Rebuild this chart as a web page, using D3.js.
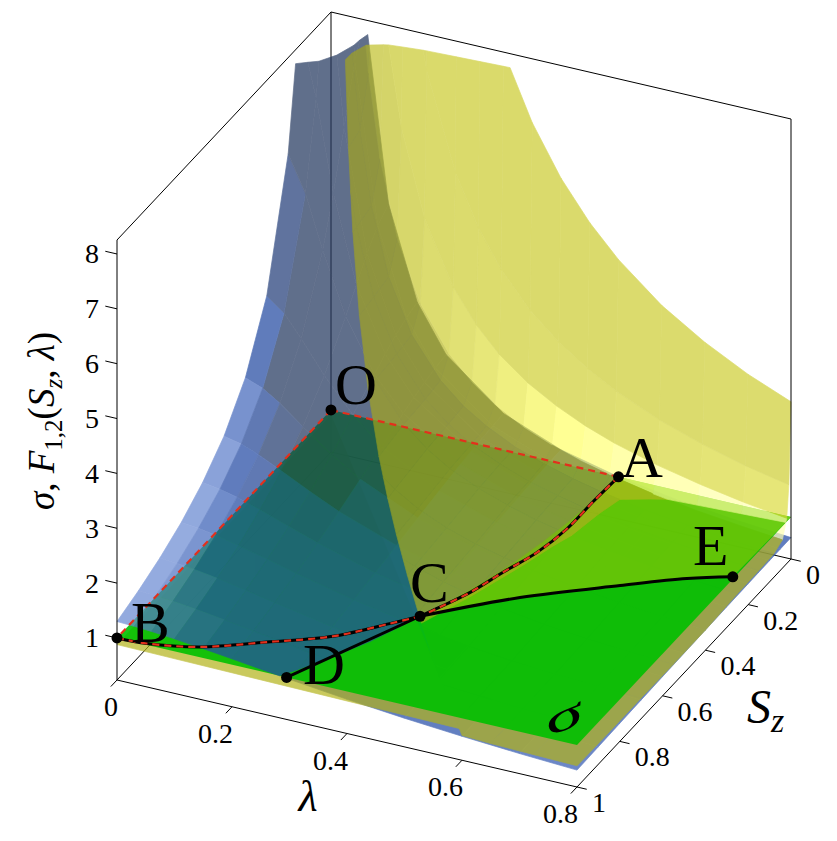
<!DOCTYPE html>
<html>
<head>
<meta charset="utf-8">
<script src="https://cdn.jsdelivr.net/npm/d3@7"></script>
<style>
  body { margin: 0; background: #fff; }
</style>
</head>
<body>
<div id="chart"></div>
<script>
// ---- data ----
const lambdaDomain = [0, 0.8];
const szDomain = [0, 1];
const zDomain = [0.234, 8.255];
const zCut = 8;          // surfaces are cut here
const sigmaLevel = 1;    // the sigma plane

const lambdaTicks = [0, 0.2, 0.4, 0.6, 0.8];
const szTicks = [0, 0.2, 0.4, 0.6, 0.8, 1];
const zTicks = [1, 2, 3, 4, 5, 6, 7, 8];

// blue surface F1, rows = Sz, columns = lambda
const blueLambda = [0, 0.03, 0.06, 0.1, 0.15, 0.2, 0.3, 0.4, 0.5, 0.6, 0.7, 0.8];
const blueSz = [0, 0.05, 0.1, 0.15, 0.2, 0.3, 0.4, 0.5, 0.6, 0.7, 0.8, 0.9, 1];
const blueF1 = [
  [99, 16.67, 8.33, 5.0, 3.33, 2.5, 1.667, 1.25, 1.0, 0.833, 0.714, 0.625],
  [26.0, 13.41, 7.71, 4.82, 3.26, 2.46, 1.652, 1.242, 0.995, 0.830, 0.712, 0.623],
  [13.0, 9.77, 6.71, 4.51, 3.15, 2.41, 1.632, 1.232, 0.989, 0.826, 0.709, 0.621],
  [8.67, 7.38, 5.72, 4.15, 3.01, 2.34, 1.606, 1.219, 0.982, 0.821, 0.706, 0.619],
  [6.5, 5.85, 4.89, 3.78, 2.85, 2.26, 1.576, 1.205, 0.973, 0.816, 0.702, 0.616],
  [4.33, 4.09, 3.69, 3.12, 2.52, 2.07, 1.504, 1.169, 0.953, 0.803, 0.693, 0.610],
  [3.25, 3.13, 2.93, 2.60, 2.21, 1.889, 1.424, 1.128, 0.929, 0.788, 0.683, 0.602],
  [2.6, 2.53, 2.41, 2.21, 1.954, 1.715, 1.341, 1.083, 0.902, 0.771, 0.671, 0.594],
  [2.17, 2.12, 2.05, 1.917, 1.736, 1.559, 1.259, 1.037, 0.874, 0.752, 0.658, 0.585],
  [1.857, 1.825, 1.774, 1.685, 1.555, 1.422, 1.181, 0.990, 0.845, 0.732, 0.645, 0.575],
  [1.625, 1.601, 1.565, 1.500, 1.404, 1.302, 1.107, 0.945, 0.815, 0.712, 0.630, 0.564],
  [1.444, 1.426, 1.399, 1.351, 1.278, 1.198, 1.039, 0.900, 0.785, 0.691, 0.615, 0.553],
  [1.3, 1.286, 1.265, 1.228, 1.171, 1.107, 0.977, 0.858, 0.756, 0.671, 0.600, 0.542]
];

// yellow surface F2 (upper sheet, right of the wall)
const yellowLambda = [0.03, 0.05, 0.065, 0.08, 0.1, 0.13, 0.17, 0.22, 0.26, 0.3, 0.35, 0.4, 0.45, 0.5, 0.575, 0.65, 0.725, 0.8];
const yellowSz = [0, 0.01, 0.02, 0.04, 0.08, 0.15, 0.25, 0.4, 0.55, 0.7, 0.85, 1];
const yellowF2 = [
  [82.7, 49.6, 38.2, 31.0, 24.8, 19.1, 14.6, 11.3, 9.54, 8.27, 7.09, 6.2, 5.51, 4.96, 4.31, 3.82, 3.42, 3.1],
  [43.3, 26.0, 20.0, 16.3, 13.0, 10.0, 7.65, 5.91, 5.0, 4.33, 3.71, 3.25, 2.89, 2.6, 2.26, 2.0, 1.79, 1.63],
  [28.3, 17.0, 13.1, 10.6, 8.5, 6.54, 5.0, 3.86, 3.27, 2.83, 2.43, 2.13, 1.89, 1.7, 1.48, 1.31, 1.17, 1.06],
  [20.0, 12.0, 9.23, 7.5, 6.0, 4.62, 3.53, 2.73, 2.31, 2.0, 1.71, 1.5, 1.33, 1.2, 1.04, 0.92, 0.83, 0.75],
  [17.7, 10.6, 8.15, 6.63, 5.3, 4.08, 3.12, 2.41, 2.04, 1.77, 1.51, 1.33, 1.18, 1.06, 0.92, 0.82, 0.73, 0.66],
  [17.3, 10.4, 8.0, 6.5, 5.2, 4.0, 3.06, 2.36, 2.0, 1.73, 1.49, 1.3, 1.16, 1.04, 0.9, 0.8, 0.72, 0.65],
  [17.0, 10.2, 7.85, 6.38, 5.1, 3.92, 3.0, 2.32, 1.96, 1.7, 1.46, 1.28, 1.13, 1.02, 0.89, 0.78, 0.7, 0.64],
  [16.0, 9.6, 7.38, 6.0, 4.8, 3.69, 2.82, 2.18, 1.85, 1.6, 1.37, 1.2, 1.07, 0.96, 0.83, 0.74, 0.66, 0.6],
  [15.0, 9.0, 6.92, 5.63, 4.5, 3.46, 2.65, 2.05, 1.73, 1.5, 1.29, 1.13, 1.0, 0.9, 0.78, 0.7, 0.64, 0.6],
  [13.7, 8.2, 6.31, 5.13, 4.1, 3.15, 2.41, 1.86, 1.58, 1.37, 1.17, 1.03, 0.91, 0.82, 0.74, 0.68, 0.64, 0.61],
  [13.0, 7.8, 6.0, 4.88, 3.9, 3.0, 2.29, 1.77, 1.5, 1.3, 1.11, 0.98, 0.87, 0.78, 0.72, 0.67, 0.64, 0.61],
  [12.5, 7.5, 5.77, 4.69, 3.75, 2.88, 2.21, 1.7, 1.44, 1.25, 1.07, 0.94, 0.83, 0.75, 0.7, 0.66, 0.64, 0.62]
];
// yellow lower sheet (left of the wall, under the plane)
const yellowLowLambda = [0, 0.6];
const yellowLowSz = [0, 1];
const yellowLowF2 = [[0.9, 0.85], [0.88, 0.8]];
// the wall where the yellow sheet ends (lambda, Sz)
const wallLine = [[0, 0], [0.6, 1]];

// labelled points on the sigma plane
const pointNames = ["O", "A", "B", "C", "D", "E"];
const pointLambda = [0, 0.5, 0, 0.4035, 0.295, 0.797];
const pointSz = [0, 0, 1, 0.668, 1, 0.264];

// curves on the plane, [lambda, Sz]
const curveOB = [[0, 0], [0, 1]];
const curveOA = [[0, 0], [0.5, 0]];
const curveAC = [[0.5, 0], [0.497, 0.11], [0.496, 0.23], [0.485, 0.34], [0.463, 0.44], [0.443, 0.54], [0.419, 0.62], [0.4035, 0.668]];
const curveBC = [[0, 1], [0.05, 0.995], [0.13, 0.963], [0.22, 0.889], [0.306, 0.813], [0.37, 0.72], [0.4035, 0.668]];
const curveCD = [[0.4035, 0.668], [0.295, 1]];
const curveCE = [[0.4035, 0.668], [0.521, 0.517], [0.648, 0.39], [0.734, 0.309], [0.797, 0.264]];

// ---- drawing ----
const width = 837, height = 841;
const svg = d3.select("#chart").append("svg")
  .attr("width", width)
  .attr("height", height)
  .attr("font-family", "'Liberation Serif', 'Times New Roman', 'DejaVu Serif', serif");

const sx = d3.scaleLinear().domain(lambdaDomain).range([0, 1]);
const sy = d3.scaleLinear().domain(szDomain).range([0, 1]);
const sz = d3.scaleLinear().domain(zDomain).range([0, 1]);

// orthographic view of the unit box
const origin = [331, 452];
const axisX = [460, 107], axisY = [-214, 228], axisZ = [0, -440];
const view = [0.366, 0.787, 0.497];

function norm(v) { const l = Math.hypot(...v) || 1; return v.map(d => d / l); }
function dot(a, b) { return a[0]*b[0] + a[1]*b[1] + a[2]*b[2]; }

function world(p) { return [sx(p[0]), sy(p[1]), sz(p[2])]; }
function screen(w) {
  return [origin[0] + axisX[0]*w[0] + axisY[0]*w[1] + axisZ[0]*w[2],
          origin[1] + axisX[1]*w[0] + axisY[1]*w[1] + axisZ[1]*w[2]];
}
function proj(p) { return screen(world(p)); }

// Sutherland-Hodgman against one half space f(p) >= 0
function clip(poly, f) {
  const out = [];
  for (let i = 0; i < poly.length; i++) {
    const a = poly[i], b = poly[(i + 1) % poly.length];
    const fa = f(a), fb = f(b);
    if (fa >= 0) out.push(a);
    if ((fa >= 0) !== (fb >= 0)) {
      const t = fa / (fa - fb);
      out.push([a[0] + t*(b[0]-a[0]), a[1] + t*(b[1]-a[1]), a[2] + t*(b[2]-a[2])]);
    }
  }
  return out;
}

function gridCells(ls, ss, zs) {
  const cells = [];
  for (let j = 0; j < ss.length - 1; j++) {
    for (let i = 0; i < ls.length - 1; i++) {
      cells.push([[ls[i], ss[j], zs[j][i]], [ls[i+1], ss[j], zs[j][i+1]],
                  [ls[i+1], ss[j+1], zs[j+1][i+1]], [ls[i], ss[j+1], zs[j+1][i]]]);
    }
  }
  return cells;
}

function pieces(cells, keep) {
  return cells.map(c => keep.reduce((poly, f) => poly.length >= 3 ? clip(poly, f) : poly, c))
    .filter(p => p.length >= 3);
}

const wallAt = s => wallLine[0][0] + (wallLine[1][0] - wallLine[0][0]) * (s - wallLine[0][1]) / (wallLine[1][1] - wallLine[0][1]);
const underCut = p => zCut - p[2];
const abovePlane = p => p[2] - sigmaLevel;
const belowPlane = p => sigmaLevel - p[2];
const rightOfWall = p => p[0] - wallAt(p[1]);
const leftOfWall = p => wallAt(p[1]) - p[0];

const blueCells = gridCells(blueLambda, blueSz, blueF1);
const yellowCells = gridCells(yellowLambda, yellowSz, yellowF2);
const yellowLowCells = gridCells(yellowLowLambda, yellowLowSz, yellowLowF2);

const line = d3.line();

// shading: a colour ramp over the diffuse term plus a specular glint
function drawSurface(layer, polys, look, opacity) {
  const half = norm([look.light[0] + view[0], look.light[1] + view[1], look.light[2] + view[2]]);
  const items = polys.map(p => {
    const w = p.map(world);
    let n = [0, 0, 0];
    for (let i = 0; i < w.length; i++) {
      const a = w[i], b = w[(i + 1) % w.length];
      n[0] += (a[1] - b[1]) * (a[2] + b[2]);
      n[1] += (a[2] - b[2]) * (a[0] + b[0]);
      n[2] += (a[0] - b[0]) * (a[1] + b[1]);
    }
    n = Math.hypot(...n) > 1e-9 ? norm(n) : [0, 0, 1];
    if (dot(n, view) < 0) n = n.map(d => -d);
    const base = d3.rgb(look.ramp(dot(n, look.light)));
    const s = 255 * look.spec * Math.pow(Math.max(0, dot(n, half)), look.shine);
    const c = d3.rgb(base.r + s, base.g + s, base.b + s).formatHex();
    const depth = d3.mean(w, d => dot(d, view));
    return {pts: p.map(proj), color: c, depth: depth};
  });
  items.sort((a, b) => a.depth - b.depth);
  layer.append("g")
    .attr("opacity", opacity)
    .selectAll("path")
    .data(items)
    .join("path")
      .attr("d", d => line(d.pts) + "Z")
      .attr("fill", d => d.color)
      .attr("stroke", d => d.color)
      .attr("stroke-width", 0.7)
      .attr("stroke-linejoin", "round");
}

const blueLook = {
  light: [-1.6, 0.866, 0.724],
  ramp: d3.scaleLinear().domain([0.05, 0.25, 0.6, 0.97])
    .range(["#24385f", "#22448f", "#244ca8", "#b4ccff"]).clamp(true),
  spec: 0.1, shine: 20
};
const yellowLight = norm([-0.3, 0.8, 0.35]);
const yellowLook = {
  light: yellowLight,
  ramp: d3.scaleLinear().domain([0, 1]).range(["#a8a818", "#c6c61c"]).clamp(true),
  spec: 0.6, shine: 30
};

// box corners
const L0 = lambdaDomain[0], L1 = lambdaDomain[1], S0 = szDomain[0], S1 = szDomain[1], Z0 = zDomain[0], Z1 = zDomain[1];
function edge(g, a, b, w) {
  g.append("path").attr("d", line([proj(a), proj(b)]))
    .attr("stroke", "#000").attr("stroke-width", w).attr("fill", "none");
}

// back edges first, they show through the surfaces
const back = svg.append("g");
edge(back, [L0, S0, Z0], [L1, S0, Z0], 1);
edge(back, [L0, S0, Z0], [L0, S1, Z0], 1);
edge(back, [L0, S0, Z0], [L0, S0, Z1], 1);

// parts under the sigma plane
const under = svg.append("g");
drawSurface(under, pieces(blueCells, [underCut, belowPlane]), blueLook, 0.72);
drawSurface(under, pieces(yellowCells, [underCut, rightOfWall, belowPlane])
  .concat(pieces(yellowLowCells, [leftOfWall, belowPlane])), yellowLook, 0.7);

// sigma plane
const plane = svg.append("g").attr("opacity", 0.9);
plane.append("path")
  .attr("d", line([[L0, S0], [L1, S0], [L1, S1], [L0, S1]].map(d => proj([d[0], d[1], sigmaLevel]))) + "Z")
  .attr("fill", "#00c000");
const lightRegion = [[L1, S0]].concat(curveCE.slice().reverse(), curveAC.slice().reverse());
plane.append("path")
  .attr("d", line(lightRegion.map(d => proj([d[0], d[1], sigmaLevel]))) + "Z")
  .attr("fill", "#5cc800");

// parts over the plane
const over = svg.append("g");
drawSurface(over, pieces(blueCells, [underCut, abovePlane]), blueLook, 0.72);
drawSurface(over, pieces(yellowCells, [underCut, rightOfWall, abovePlane]), yellowLook, 0.66);

// front box edges and axes
const front = svg.append("g");
edge(front, [L0, S1, Z0], [L0, S1, Z1], 1);
edge(front, [L1, S0, Z0], [L1, S0, Z1], 1);
edge(front, [L0, S1, Z1], [L0, S0, Z1], 1);
edge(front, [L0, S0, Z1], [L1, S0, Z1], 1);
edge(front, [L0, S1, Z0], [L1, S1, Z0], 1);
edge(front, [L1, S1, Z0], [L1, S0, Z0], 1);

const ux = norm([axisX[0], axisX[1], 0]), uy = norm([axisY[0], axisY[1], 0]);

// z ticks on the left edge
zTicks.forEach(t => {
  const p = proj([L0, S1, t]);
  front.append("line").attr("x1", p[0]).attr("y1", p[1])
    .attr("x2", p[0] - ux[0]*12).attr("y2", p[1] - ux[1]*12)
    .attr("stroke", "#000").attr("stroke-width", 1);
  front.append("text").attr("x", 99).attr("y", p[1] + 9.5)
    .attr("text-anchor", "end").attr("font-size", 28).text(t);
});

// lambda ticks on the front edge
lambdaTicks.forEach(t => {
  const p = proj([t, S1, Z0]);
  front.append("line").attr("x1", p[0]).attr("y1", p[1])
    .attr("x2", p[0] + uy[0]*9).attr("y2", p[1] + uy[1]*9)
    .attr("stroke", "#000").attr("stroke-width", 1);
  front.append("text").attr("x", p[0] + 1).attr("y", p[1] + 36)
    .attr("text-anchor", "end").attr("font-size", 28).text(t);
});

// Sz ticks on the right edge
szTicks.forEach(t => {
  const p = proj([L1, t, Z0]);
  front.append("line").attr("x1", p[0]).attr("y1", p[1])
    .attr("x2", p[0] + ux[0]*10).attr("y2", p[1] + ux[1]*10)
    .attr("stroke", "#000").attr("stroke-width", 1);
  front.append("text").attr("x", p[0] + 15).attr("y", p[1] + 25)
    .attr("text-anchor", "start").attr("font-size", 28).text(t);
});

// axis titles
const zTitle = svg.append("text")
  .attr("transform", "translate(54,421) rotate(-90)")
  .attr("text-anchor", "middle")
  .attr("font-size", 37);
zTitle.append("tspan").attr("font-style", "italic").text("σ");
zTitle.append("tspan").text(", ");
zTitle.append("tspan").attr("font-style", "italic").text("F");
zTitle.append("tspan").attr("font-size", 25).attr("dy", 8).text("1,2");
zTitle.append("tspan").attr("dy", -8).text("(");
zTitle.append("tspan").attr("font-style", "italic").text("S");
zTitle.append("tspan").attr("font-style", "italic").attr("font-size", 25).attr("dy", 8).text("z");
zTitle.append("tspan").attr("dy", -8).text(", ");
zTitle.append("tspan").attr("font-style", "italic").text("λ");
zTitle.append("tspan").text(")");

svg.append("text").attr("x", 308).attr("y", 811)
  .attr("text-anchor", "middle").attr("font-size", 44).attr("font-style", "italic").text("λ");

const szTitle = svg.append("text").attr("x", 747).attr("y", 723)
  .attr("font-size", 48).attr("font-style", "italic");
szTitle.append("tspan").text("S");
szTitle.append("tspan").attr("font-size", 34).attr("dy", 9).text("z");

// sigma written on the plane
svg.append("text")
  .attr("transform", "translate(568,729) rotate(-22) scale(1.2,0.62)")
  .attr("text-anchor", "middle").attr("font-size", 66).attr("font-style", "italic").text("σ");

// curves on the plane
const curved = d3.line().curve(d3.curveCatmullRom.alpha(0.5));
const onPlane = c => c.map(d => proj([d[0], d[1], sigmaLevel]));
const curves = svg.append("g").attr("fill", "none");
[curveAC, curveBC, curveCD, curveCE].forEach(c => {
  curves.append("path").attr("d", curved(onPlane(c)))
    .attr("stroke", "#000").attr("stroke-width", 3);
});
[curveOB, curveOA, curveAC, curveBC].forEach(c => {
  curves.append("path").attr("d", curved(onPlane(c)))
    .attr("stroke", "#e3301c").attr("stroke-width", 2.2).attr("stroke-dasharray", "7,5");
});

// points and their names
const labelPos = {O: [335, 404], A: [621, 477], B: [131, 642], C: [410, 602], D: [303, 684], E: [693, 565]};
svg.append("g").selectAll("circle")
  .data(pointNames)
  .join("circle")
    .attr("cx", (d, i) => proj([pointLambda[i], pointSz[i], sigmaLevel])[0])
    .attr("cy", (d, i) => proj([pointLambda[i], pointSz[i], sigmaLevel])[1])
    .attr("r", 5.5)
    .attr("fill", "#000");
svg.append("g").selectAll("text")
  .data(pointNames)
  .join("text")
    .attr("x", d => labelPos[d][0])
    .attr("y", d => labelPos[d][1])
    .attr("font-size", 58)
    .text(d => d);
</script>
</body>
</html>
